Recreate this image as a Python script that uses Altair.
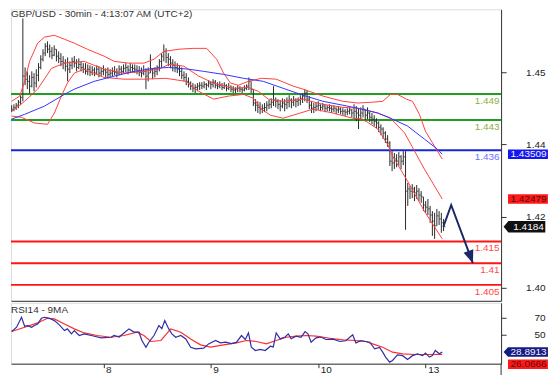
import json
import altair as alt
import pandas as pd

FONT = "Liberation Sans"

# ---------------- data ----------------
title_text = "GBP/USD - 30min - 4:13:07 AM (UTC+2)"
rsi_title = "RSI14 - 9MA"

highs = [1.4464,1.4466,1.4469,1.4476,1.4487,1.4664,1.4551,1.4542,1.4533,1.4542,
         1.4538,1.4547,1.4561,1.4579,1.4593,1.4607,1.4611,1.4604,1.4598,1.4602,
         1.4593,1.4588,1.4584,1.4577,1.4570,1.4574,1.4565,1.4574,1.4577,1.4570,
         1.4572,1.4565,1.4561,1.4561,1.4558,1.4556,1.4554,1.4551,1.4556,1.4554,
         1.4551,1.4556,1.4549,1.4551,1.4547,1.4551,1.4554,1.4549,1.4556,1.4554,
         1.4558,1.4561,1.4556,1.4561,1.4558,1.4558,1.4556,1.4554,1.4551,1.4556,
         1.4549,1.4551,1.4581,1.4549,1.4551,1.4556,1.4570,1.4584,1.4604,1.4595,
         1.4584,1.4577,1.4570,1.4565,1.4561,1.4556,1.4551,1.4542,1.4538,1.4528,
         1.4519,1.4515,1.4512,1.4515,1.4517,1.4517,1.4519,1.4515,1.4522,1.4519,
         1.4524,1.4522,1.4517,1.4519,1.4515,1.4517,1.4512,1.4515,1.4510,1.4508,
         1.4505,1.4510,1.4508,1.4505,1.4510,1.4512,1.4528,1.4519,1.4501,1.4478,
         1.4473,1.4471,1.4466,1.4469,1.4473,1.4476,1.4480,1.4508,1.4482,1.4478,
         1.4476,1.4480,1.4478,1.4482,1.4487,1.4480,1.4485,1.4480,1.4482,1.4487,
         1.4492,1.4501,1.4499,1.4485,1.4473,1.4469,1.4471,1.4473,1.4466,1.4469,
         1.4466,1.4464,1.4466,1.4462,1.4464,1.4459,1.4462,1.4459,1.4457,1.4455,
         1.4457,1.4459,1.4455,1.4466,1.4462,1.4457,1.4459,1.4464,1.4455,1.4459,
         1.4450,1.4446,1.4441,1.4434,1.4427,1.4420,1.4413,1.4404,1.4395,1.4381,
         1.4358,1.4354,1.4351,1.4356,1.4349,1.4358,1.4358,1.4285,1.4278,1.4282,
         1.4276,1.4280,1.4273,1.4266,1.4253,1.4243,1.4248,1.4232,1.4220,1.4216,
         1.4225,1.4220,1.4216,1.4202]
lows = [1.4448,1.4450,1.4453,1.4457,1.4464,1.4473,1.4510,1.4501,1.4492,1.4505,
        1.4496,1.4505,1.4519,1.4547,1.4565,1.4577,1.4584,1.4574,1.4570,1.4577,
        1.4565,1.4561,1.4554,1.4547,1.4542,1.4519,1.4538,1.4547,1.4551,1.4542,
        1.4547,1.4542,1.4538,1.4535,1.4533,1.4531,1.4533,1.4531,1.4535,1.4528,
        1.4531,1.4533,1.4528,1.4526,1.4528,1.4531,1.4533,1.4528,1.4533,1.4535,
        1.4538,1.4540,1.4535,1.4538,1.4540,1.4538,1.4535,1.4531,1.4528,1.4533,
        1.4501,1.4519,1.4538,1.4524,1.4528,1.4533,1.4542,1.4551,1.4565,1.4561,
        1.4554,1.4549,1.4542,1.4540,1.4538,1.4531,1.4524,1.4519,1.4510,1.4505,
        1.4499,1.4494,1.4492,1.4496,1.4499,1.4501,1.4503,1.4499,1.4505,1.4501,
        1.4505,1.4503,1.4501,1.4503,1.4499,1.4501,1.4496,1.4499,1.4494,1.4492,
        1.4492,1.4494,1.4494,1.4492,1.4496,1.4499,1.4499,1.4492,1.4462,1.4450,
        1.4446,1.4443,1.4446,1.4448,1.4450,1.4455,1.4457,1.4462,1.4459,1.4455,
        1.4450,1.4457,1.4450,1.4455,1.4459,1.4457,1.4462,1.4459,1.4462,1.4464,
        1.4469,1.4473,1.4469,1.4455,1.4446,1.4446,1.4450,1.4453,1.4450,1.4453,
        1.4448,1.4450,1.4450,1.4446,1.4448,1.4443,1.4446,1.4443,1.4441,1.4439,
        1.4441,1.4443,1.4436,1.4432,1.4427,1.4409,1.4432,1.4436,1.4427,1.4432,
        1.4425,1.4420,1.4416,1.4411,1.4402,1.4395,1.4386,1.4377,1.4368,1.4324,
        1.4312,1.4317,1.4321,1.4324,1.4317,1.4326,1.4177,1.4232,1.4248,1.4250,
        1.4243,1.4248,1.4243,1.4239,1.4220,1.4216,1.4211,1.4193,1.4163,1.4156,
        1.4186,1.4188,1.4170,1.4174]
closes = [1.4455,1.4459,1.4464,1.4471,1.4482,1.4531,1.4524,1.4519,1.4508,1.4528,
          1.4515,1.4533,1.4551,1.4570,1.4584,1.4600,1.4593,1.4588,1.4579,1.4593,
          1.4577,1.4572,1.4565,1.4561,1.4554,1.4547,1.4556,1.4565,1.4561,1.4551,
          1.4558,1.4551,1.4547,1.4542,1.4547,1.4540,1.4545,1.4538,1.4547,1.4538,
          1.4542,1.4545,1.4540,1.4535,1.4538,1.4542,1.4540,1.4538,1.4547,1.4542,
          1.4549,1.4551,1.4545,1.4551,1.4549,1.4547,1.4542,1.4540,1.4538,1.4542,
          1.4531,1.4538,1.4547,1.4538,1.4542,1.4551,1.4565,1.4577,1.4588,1.4574,
          1.4570,1.4561,1.4556,1.4551,1.4547,1.4542,1.4533,1.4528,1.4519,1.4515,
          1.4508,1.4503,1.4505,1.4508,1.4510,1.4508,1.4512,1.4510,1.4515,1.4512,
          1.4517,1.4510,1.4508,1.4510,1.4505,1.4510,1.4503,1.4505,1.4501,1.4499,
          1.4501,1.4503,1.4501,1.4499,1.4503,1.4508,1.4519,1.4501,1.4469,1.4464,
          1.4459,1.4455,1.4457,1.4459,1.4464,1.4466,1.4471,1.4476,1.4473,1.4466,
          1.4462,1.4469,1.4466,1.4471,1.4476,1.4471,1.4476,1.4473,1.4476,1.4480,
          1.4485,1.4492,1.4478,1.4464,1.4457,1.4459,1.4462,1.4464,1.4459,1.4462,
          1.4457,1.4459,1.4457,1.4455,1.4457,1.4453,1.4455,1.4450,1.4450,1.4448,
          1.4450,1.4453,1.4446,1.4450,1.4446,1.4441,1.4446,1.4455,1.4441,1.4446,
          1.4436,1.4432,1.4427,1.4423,1.4413,1.4409,1.4400,1.4386,1.4377,1.4335,
          1.4331,1.4340,1.4335,1.4345,1.4335,1.4345,1.4266,1.4271,1.4266,1.4271,
          1.4262,1.4266,1.4257,1.4253,1.4234,1.4229,1.4225,1.4211,1.4197,1.4186,
          1.4209,1.4202,1.4193,1.4184]

bb_up_bar = [0,3.6,5.8,8,11.6,14.7,19.1,23.6,28,33.8,41.3,45.8,52.4,59.1,63.6,68,74.7,81.3,87.1,91.6,
             94.7,97.8,101.3,105.8,111.6,118.2,125.8,130.2,139.1,148,154.7,161.3,165.8,169.3,172.4,
             176.4,179.1,182.2,184.9,188.9,192.4]
bb_up = [1.4473,1.4485,1.4519,1.4565,1.4607,1.4621,1.4625,1.4616,1.4607,1.4593,1.4577,1.4565,1.4561,
         1.4561,1.4570,1.4588,1.4593,1.4595,1.4595,1.4570,1.4538,1.4515,1.4510,1.4519,1.4526,1.4524,
         1.4508,1.4501,1.4485,1.4473,1.4469,1.4471,1.4473,1.4489,1.4489,1.4478,1.4473,1.4443,1.4404,
         1.4370,1.4340]
bb_mid_bar = [0,5.8,11.6,17.8,23.6,32.4,41.3,50.2,59.1,65.8,70.2,76.9,83.6,90.2,99.1,105.8,110.2,114.7,
              121.3,130.2,139.1,148,154.7,163.6,169.3,175.6,184.4,192.4]
bb_mid = [1.4450,1.4473,1.4501,1.4549,1.4561,1.4565,1.4547,1.4538,1.4542,1.4547,1.4558,1.4554,1.4531,
          1.4515,1.4503,1.4505,1.4496,1.4478,1.4473,1.4478,1.4466,1.4459,1.4457,1.4446,1.4434,1.4400,
          1.4317,1.4248]
bb_lo_bar = [0,4.4,10.2,16,19.1,22.2,24.9,28,32.4,41.3,50.2,59.1,68.9,77.8,83.6,90.2,96.9,103.6,108,
             111.6,115.6,121.3,125.8,134.7,143.6,152.4,156.9,163.6,168,170.2,176.9,184.4,192.4]
bb_lo = [1.4439,1.4436,1.4423,1.4420,1.4446,1.4485,1.4515,1.4538,1.4547,1.4528,1.4524,1.4524,1.4526,
         1.4519,1.4496,1.4478,1.4485,1.4489,1.4480,1.4455,1.4441,1.4434,1.4441,1.4455,1.4446,1.4434,
         1.4432,1.4409,1.4374,1.4347,1.4289,1.4220,1.4156]
ma_bar = [0,5.8,14.7,23.6,28,36.9,45.8,54.7,63.6,70.2,79.1,85.8,94.7,103.6,112.4,121.3,130.2,139.1,148,
          154.7,163.6,169.3,176.9,184.4,190.2,192.4]
ma = [1.4432,1.4443,1.4462,1.4489,1.4501,1.4519,1.4531,1.4542,1.4549,1.4551,1.4547,1.4542,1.4535,
      1.4526,1.4519,1.4503,1.4487,1.4473,1.4464,1.4457,1.4446,1.4434,1.4416,1.4386,1.4363,1.4351]

rsi_bar = [0,2.2,4.4,5.8,7.1,8.9,10.2,11.6,13.3,14.7,16.9,19.1,21.3,23.6,24.9,26.7,28,30.2,32.4,35.6,
           40,44.4,45.8,48,50.2,52.4,54.7,56.9,58.2,60,61.3,63.6,65.8,67.1,68.4,70.2,71.6,73.3,75.6,77.8,
           80,82.2,85.8,88,91.1,93.3,95.6,98.2,100.4,102.7,104.4,105.8,107.1,108.9,111.1,113.3,115.6,
           116.9,118.2,120,122.2,123.6,124.9,127.1,129.3,131.1,132.4,133.8,136,138.2,140.4,143.6,146.7,
           149.3,152.4,153.8,156,158.2,160,162.2,164.4,165.8,167.1,168.9,170.2,172.4,174.7,176.9,179.1,
           181.3,183.6,184.9,186.7,188,189.3,191.1,192.4]
rsi = [53.6,58.8,70.8,60,60.8,58.8,61,62.8,69.6,70.8,69.6,66.8,61.6,54.8,56.8,50.8,54.8,48.8,50.8,48.8,
       45.9,46.7,48.8,47,51.9,56.8,53,52.8,42.8,34.7,40.7,48.8,60.8,57,66.8,56.8,50.8,46.7,48.8,44.7,
       34.7,32.7,33.5,38.7,42.8,40,40.7,39,40.5,48.8,44,51.9,34.7,30.7,32,30.7,35.9,35,51.9,44.7,
       47,50.8,45,48,46.5,53.6,50.8,40.7,46,47,44,44.5,41.6,42.5,49.6,39.9,42.5,41.6,40.7,32.7,
       34.5,28.7,22.7,16.7,18.7,25.4,24.5,19.9,24.5,26.7,24.5,27.5,22.7,24.5,30.7,26.7,28.9]
rsi_ma_bar = [0,5.8,11.6,16,19.1,23.6,28,32.4,38.2,44.4,50.2,56,59.1,62.2,66.7,71.1,75.6,80,84.4,88.9,
              94.7,100.4,104.9,109.3,113.8,118.2,122.7,127.1,131.6,136,142.2,148,153.8,158.2,161.3,
              165.8,170.2,174.7,180.4,186.7,192.4]
rsi_ma = [53.6,58.8,64,69.6,68.8,62.8,56.8,51.9,48.8,46.7,48.8,52.8,48.8,41.6,42.8,56.8,52.8,44.7,37.5,
          34.7,37.5,39.9,42.8,41.6,38.7,42.8,46.7,48,48.8,48,45.5,43.5,42.8,41.6,38.7,34.7,28.7,26.7,
          25.9,25.9,26.1]

level_values = [1.449, 1.443, 1.436, 1.415, 1.41, 1.405]
level_labels = ["1.449", "1.443", "1.436", "1.415", "1.41", "1.405"]

price_tick_values = [1.4540, 1.4374, 1.4207, 1.4043]
price_tick_labels = ["1.45", "1.44", "1.42", "1.40"]
rsi_tick_values = [50, 70]
day_bars = [41, 89, 137, 185]
day_labels = ["8", "9", "10", "13"]

arrow_bar = [192.9, 196.4, 206.1]
arrow_price = [1.4184, 1.4234, 1.4100]

ma_last, ma_last_label = 1.43509, "1.43509"
bb_last, bb_last_label = 1.42479, "1.42479"
price_last, price_last_label = 1.4184, "1.4184"
rsi_last, rsi_last_label = 28.8913, "28.8913"
rsi_ma_last, rsi_ma_last_label = 26.0666, "26.0666"

# ---------------- styles ----------------
W = 491
H_MAIN = 292
H_RSI = 61
X_DOMAIN = [-0.3, 218.7]
PRICE_DOMAIN = [1.40133, 1.46849]
RSI_DOMAIN = [14.8, 88.3]

GREEN = "#1f9e1f"
BLUE_LVL = "#1428d8"
RED = "#ff1414"
level_colors = [GREEN, GREEN, BLUE_LVL, RED, RED, RED]
level_text_colors = ["#86b43c", "#86b43c", "#6f6fff", "#ff4a4a", "#ff4a4a", "#ff4a4a"]
NAVY = "#1c2768"

BOX = "M-0.8,-0.215L1.02,-0.215L1.02,0.215L-0.8,0.215Z"
ARROW_BOX = "M-1,0L-0.78,-0.26L0.9,-0.26L0.9,0.26L-0.78,0.26Z"
RSI_ARROW_BOX = "M-1,0L-0.8,-0.215L1.02,-0.215L1.02,0.215L-0.8,0.215Z"
HEAD = "M0,0L-0.4,-1L0.4,-1Z"
BOX_X = 515.5
BOX_SIZE = 44 * 44
TEXT_X = 518.5

xs = alt.Scale(domain=X_DOMAIN, nice=False, zero=False)
ys = alt.Scale(domain=PRICE_DOMAIN, nice=False, zero=False)
rs = alt.Scale(domain=RSI_DOMAIN, nice=False, zero=False)

price_expr = f"{json.dumps(price_tick_labels)}[indexof({json.dumps(price_tick_values)}, datum.value)]"
day_expr = f"{json.dumps(day_labels)}[indexof({json.dumps(day_bars)}, datum.value)]"

main_x_axis = alt.Axis(title=None, labels=False, ticks=False, grid=False, domainColor="#333")
price_axis = alt.Axis(orient="right", title=None, values=price_tick_values, labelExpr=price_expr,
                      tickSize=5, tickColor="#333", domainColor="#333", grid=False,
                      labelAlign="right", labelPadding=39, labelFontSize=10, labelFont=FONT,
                      labelColor="#222", labelBaseline="middle")
rsi_x_axis = alt.Axis(title=None, values=day_bars, labelExpr=day_expr, tickSize=4, tickColor="#333",
                      domainColor="#333", grid=False, labelAlign="left", labelOffset=2, labelPadding=-3,
                      labelBaseline="top", labelFontSize=10, labelFont=FONT, labelColor="#222",
                      labelFlush=False)
rsi_y_axis = alt.Axis(orient="right", title=None, values=rsi_tick_values, tickSize=5, tickColor="#333",
                      domainColor="#333", grid=False, labelAlign="right", labelPadding=39,
                      labelFontSize=10, labelFont=FONT, labelColor="#222", labelBaseline="middle")


def X(field="bar"):
    return alt.X(f"{field}:Q", scale=xs, axis=main_x_axis)


def Y(field):
    return alt.Y(f"{field}:Q", scale=ys, axis=price_axis)


def RX(field="bar"):
    return alt.X(f"{field}:Q", scale=xs, axis=rsi_x_axis)


def RY(field):
    return alt.Y(f"{field}:Q", scale=rs, axis=rsi_y_axis)


def line_df(bars, vals):
    return pd.DataFrame({"bar": bars, "v": vals})


# ---------------- main panel ----------------
candles = pd.DataFrame({"bar": list(range(len(highs))), "high": highs, "low": lows, "close": closes})
levels = pd.DataFrame({"v": level_values, "label": level_labels, "c": level_colors, "tc": level_text_colors})

lvl_rules = alt.Chart(levels).mark_rule(strokeWidth=2).encode(
    y=Y("v"), color=alt.Color("c:N", scale=None))
lvl_text = alt.Chart(levels).mark_text(align="right", baseline="middle", dy=7, fontSize=10, font=FONT).encode(
    y=Y("v"), x=alt.value(489.5), text="label:N", color=alt.Color("tc:N", scale=None))

ohlc = alt.Chart(candles).mark_rule(color="#2a2a2a", strokeWidth=1).encode(
    x=X(), y=Y("high"), y2="low:Q")
ctick = alt.Chart(candles).mark_tick(color="#2a2a2a", orient="horizontal", size=2, thickness=1,
                                     xOffset=1).encode(x=X(), y=Y("close"))

bb_lines = [alt.Chart(line_df(b, v)).mark_line(color="#ff4040", strokeWidth=1).encode(x=X(), y=Y("v"))
            for b, v in [(bb_up_bar, bb_up), (bb_mid_bar, bb_mid), (bb_lo_bar, bb_lo)]]
ma_line = alt.Chart(line_df(ma_bar, ma)).mark_line(color="#3434ff", strokeWidth=1).encode(x=X(), y=Y("v"))

arrow_df = line_df(arrow_bar, arrow_price)
arrow_line = alt.Chart(arrow_df).mark_line(color=NAVY, strokeWidth=2).encode(x=X(), y=Y("v"))
arrow_head = alt.Chart(arrow_df.tail(1)).mark_point(shape=HEAD, filled=True, size=676, angle=340,
                                                    color=NAVY, opacity=1, strokeWidth=0).encode(
    x=X(), y=Y("v"))


def box(value, label, fill, tcolor, shape, yaxis, yoff=0):
    d = pd.DataFrame({"v": [value], "t": [label]})
    b = alt.Chart(d).mark_point(shape=shape, filled=True, size=BOX_SIZE, color=fill, opacity=1,
                                strokeWidth=0, yOffset=yoff).encode(x=alt.value(BOX_X), y=yaxis("v"))
    t = alt.Chart(d).mark_text(align="center", baseline="middle", fontSize=10, font=FONT, color=tcolor,
                               yOffset=yoff).encode(x=alt.value(TEXT_X), y=yaxis("v"), text="t:N")
    return [b, t]


title = alt.Chart(pd.DataFrame({"t": [title_text]})).mark_text(
    align="left", baseline="top", fontSize=10, font=FONT, color="#333").encode(
    x=alt.value(0), y=alt.value(0), text="t:N")

main = alt.layer(
    lvl_rules, ohlc, ctick, *bb_lines, ma_line, lvl_text, arrow_line, arrow_head,
    *box(ma_last, ma_last_label, "#1616ee", "#f0f0ff", BOX, Y),
    *box(bb_last, bb_last_label, "#ff1a1a", "#5a0a0a", BOX, Y),
    *box(price_last, price_last_label, "#111111", "#ffffff", ARROW_BOX, Y),
    title,
).properties(width=W, height=H_MAIN)

# ---------------- RSI panel ----------------
rsi_line = alt.Chart(line_df(rsi_bar, rsi)).mark_line(color="#2f2fa8", strokeWidth=1.2).encode(
    x=RX(), y=RY("v"))
rsi_ma_line = alt.Chart(line_df(rsi_ma_bar, rsi_ma)).mark_line(color="#ff2d2d", strokeWidth=1.2).encode(
    x=RX(), y=RY("v"))
rsi_title_mark = alt.Chart(pd.DataFrame({"t": [rsi_title]})).mark_text(
    align="left", baseline="middle", fontSize=10, font=FONT, color="#333").encode(
    x=alt.value(0), y=alt.value(7), text="t:N")
axis_ext = alt.Chart(pd.DataFrame({"a": [0]})).mark_rule(color="#333", strokeWidth=1).encode(
    x=alt.value(W), y=alt.value(H_RSI), y2=alt.value(H_RSI + 16))

rsi_panel = alt.layer(
    rsi_ma_line, rsi_line, rsi_title_mark, axis_ext,
    *box(rsi_last, rsi_last_label, "#141a80", "#f0f0ff", RSI_ARROW_BOX, RY),
    *box(rsi_ma_last, rsi_ma_last_label, "#ff1a1a", "#5a0a0a", BOX, RY, 10),
).properties(width=W, height=H_RSI)

chart = alt.vconcat(main, rsi_panel, spacing=0).resolve_scale(
    x="independent", y="independent").properties(
    padding={"left": 0, "top": 0, "right": 0, "bottom": 0}
).configure_view(stroke=None).configure(font=FONT)

chart.save("out.html", embed_options={"renderer": "svg", "actions": False})
